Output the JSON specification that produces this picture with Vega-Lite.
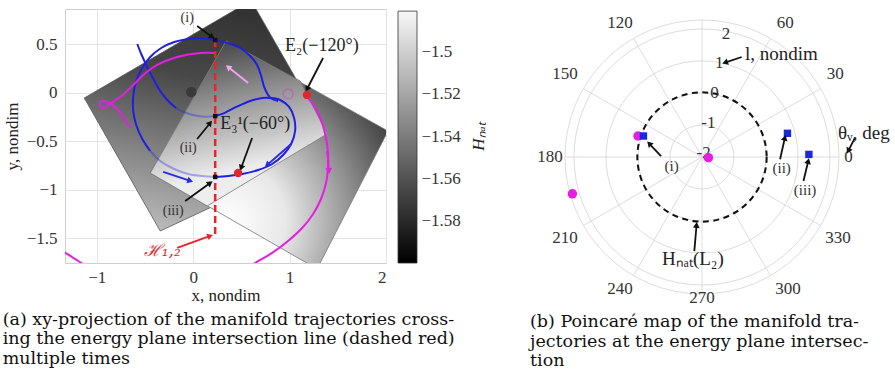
{
  "$schema": "https://vega.github.io/schema/vega-lite/v6.json",
  "background": "white",
  "padding": {"left": 2, "top": 8, "right": 0, "bottom": 0},
  "config": {
    "font": "Liberation Serif",
    "view": {"stroke": null},
    "axis": {
      "grid": true, "gridColor": "#e4e4e4", "domain": false, "ticks": false,
      "labelFont": "Liberation Serif", "labelFontSize": 17, "labelColor": "#333",
      "titleFont": "Liberation Serif", "titleFontSize": 17, "titleFontWeight": "normal", "titleColor": "#222"
    },
    "axisX": {"labelPadding": 6, "titlePadding": 2},
    "axisY": {"labelPadding": 8, "titlePadding": 5},
    "title": {"font": "DejaVu Serif", "fontSize": 17.5, "fontWeight": "normal", "color": "#111", "lineHeight": 19.5, "orient": "bottom", "anchor": "start", "frame": "bounds", "offset": 7}
  },
  "datasets": {
    "planes": [
      {"plane": "P1", "k": 0, "x": -1.130, "y": -0.052},
      {"plane": "P1", "k": 1, "x": 0.601, "y": 0.954},
      {"plane": "P1", "k": 2, "x": 1.482, "y": -0.577},
      {"plane": "P1", "k": 3, "x": -0.342, "y": -1.423},
      {"plane": "P1", "k": 4, "x": -1.130, "y": -0.052},
      {"plane": "Q", "k": 0, "x": -0.446, "y": -0.825},
      {"plane": "Q", "k": 1, "x": 0.342, "y": 0.536},
      {"plane": "Q", "k": 2, "x": 2.021, "y": -0.392},
      {"plane": "Q", "k": 3, "x": 1.285, "y": -1.814},
      {"plane": "Q", "k": 4, "x": -0.446, "y": -0.825},
      {"plane": "L", "k": 0, "x": -0.446, "y": -0.825},
      {"plane": "L", "k": 1, "x": 0.342, "y": 0.536},
      {"plane": "L", "k": 2, "x": 1.109, "y": 0.124},
      {"plane": "L", "k": 3, "x": 1.389, "y": -0.423},
      {"plane": "L", "k": 4, "x": 0.145, "y": -1.165},
      {"plane": "L", "k": 5, "x": -0.446, "y": -0.825}
    ],
    "blue": [
      {"seg": 1, "depth": "front", "k": 0, "x": -0.580, "y": 0.505},
      {"seg": 1, "depth": "front", "k": 1, "x": -0.539, "y": 0.402},
      {"seg": 1, "depth": "front", "k": 2, "x": -0.487, "y": 0.289},
      {"seg": 1, "depth": "front", "k": 3, "x": -0.425, "y": 0.165},
      {"seg": 1, "depth": "front", "k": 4, "x": -0.342, "y": 0.021},
      {"seg": 1, "depth": "front", "k": 5, "x": -0.259, "y": -0.082},
      {"seg": 1, "depth": "front", "k": 6, "x": -0.176, "y": -0.155},
      {"seg": 2, "depth": "behind", "k": 7, "x": -0.176, "y": -0.155},
      {"seg": 2, "depth": "behind", "k": 8, "x": -0.073, "y": -0.206},
      {"seg": 2, "depth": "behind", "k": 9, "x": 0.052, "y": -0.238},
      {"seg": 2, "depth": "behind", "k": 10, "x": 0.140, "y": -0.244},
      {"seg": 2, "depth": "behind", "k": 11, "x": 0.228, "y": -0.237},
      {"seg": 3, "depth": "front", "k": 12, "x": 0.228, "y": -0.237},
      {"seg": 3, "depth": "front", "k": 13, "x": 0.301, "y": -0.216},
      {"seg": 3, "depth": "front", "k": 14, "x": 0.446, "y": -0.144},
      {"seg": 3, "depth": "front", "k": 15, "x": 0.591, "y": -0.082},
      {"seg": 3, "depth": "front", "k": 16, "x": 0.715, "y": -0.052},
      {"seg": 3, "depth": "front", "k": 17, "x": 0.798, "y": -0.052},
      {"seg": 3, "depth": "front", "k": 18, "x": 0.902, "y": -0.072},
      {"seg": 3, "depth": "front", "k": 19, "x": 0.995, "y": -0.144},
      {"seg": 3, "depth": "front", "k": 20, "x": 1.047, "y": -0.258},
      {"seg": 3, "depth": "front", "k": 21, "x": 1.057, "y": -0.392},
      {"seg": 3, "depth": "front", "k": 22, "x": 1.016, "y": -0.526},
      {"seg": 3, "depth": "front", "k": 23, "x": 0.933, "y": -0.639},
      {"seg": 3, "depth": "front", "k": 24, "x": 0.819, "y": -0.732},
      {"seg": 3, "depth": "front", "k": 25, "x": 0.674, "y": -0.794},
      {"seg": 3, "depth": "front", "k": 26, "x": 0.508, "y": -0.835},
      {"seg": 3, "depth": "front", "k": 27, "x": 0.363, "y": -0.856},
      {"seg": 3, "depth": "front", "k": 28, "x": 0.228, "y": -0.866},
      {"seg": 4, "depth": "behind", "k": 29, "x": 0.228, "y": -0.866},
      {"seg": 4, "depth": "behind", "k": 30, "x": 0.093, "y": -0.856},
      {"seg": 4, "depth": "behind", "k": 31, "x": -0.052, "y": -0.835},
      {"seg": 4, "depth": "behind", "k": 32, "x": -0.197, "y": -0.784},
      {"seg": 4, "depth": "behind", "k": 33, "x": -0.342, "y": -0.701},
      {"seg": 4, "depth": "behind", "k": 34, "x": -0.446, "y": -0.598},
      {"seg": 5, "depth": "front", "k": 35, "x": -0.446, "y": -0.598},
      {"seg": 5, "depth": "front", "k": 36, "x": -0.528, "y": -0.474},
      {"seg": 5, "depth": "front", "k": 37, "x": -0.591, "y": -0.330},
      {"seg": 5, "depth": "front", "k": 38, "x": -0.622, "y": -0.186},
      {"seg": 5, "depth": "front", "k": 39, "x": -0.622, "y": -0.031},
      {"seg": 5, "depth": "front", "k": 40, "x": -0.591, "y": 0.124},
      {"seg": 5, "depth": "front", "k": 41, "x": -0.528, "y": 0.258},
      {"seg": 5, "depth": "front", "k": 42, "x": -0.446, "y": 0.371},
      {"seg": 5, "depth": "front", "k": 43, "x": -0.332, "y": 0.464},
      {"seg": 5, "depth": "front", "k": 44, "x": -0.197, "y": 0.526},
      {"seg": 5, "depth": "front", "k": 45, "x": -0.052, "y": 0.557},
      {"seg": 5, "depth": "front", "k": 46, "x": 0.093, "y": 0.567},
      {"seg": 5, "depth": "front", "k": 47, "x": 0.228, "y": 0.546},
      {"seg": 5, "depth": "front", "k": 48, "x": 0.363, "y": 0.515},
      {"seg": 5, "depth": "front", "k": 49, "x": 0.487, "y": 0.464},
      {"seg": 5, "depth": "front", "k": 50, "x": 0.591, "y": 0.381},
      {"seg": 5, "depth": "front", "k": 51, "x": 0.663, "y": 0.289},
      {"seg": 5, "depth": "front", "k": 52, "x": 0.705, "y": 0.175},
      {"seg": 5, "depth": "front", "k": 53, "x": 0.736, "y": 0.062},
      {"seg": 5, "depth": "front", "k": 54, "x": 0.777, "y": -0.021},
      {"seg": 5, "depth": "front", "k": 55, "x": 0.819, "y": -0.062},
      {"seg": 5, "depth": "front", "k": 56, "x": 0.881, "y": -0.082}
    ],
    "magenta": [
      {"seg": 1, "k": 0, "x": -0.653, "y": -0.361},
      {"seg": 1, "k": 1, "x": -0.715, "y": -0.268},
      {"seg": 1, "k": 2, "x": -0.788, "y": -0.165},
      {"seg": 1, "k": 3, "x": -0.860, "y": -0.113},
      {"seg": 1, "k": 4, "x": -0.922, "y": -0.082},
      {"seg": 1, "k": 5, "x": -0.964, "y": -0.093},
      {"seg": 1, "k": 6, "x": -0.964, "y": -0.134},
      {"seg": 1, "k": 7, "x": -0.922, "y": -0.155},
      {"seg": 1, "k": 8, "x": -0.881, "y": -0.124},
      {"seg": 1, "k": 9, "x": -0.819, "y": -0.082},
      {"seg": 1, "k": 10, "x": -0.756, "y": -0.041},
      {"seg": 1, "k": 11, "x": -0.632, "y": 0.072},
      {"seg": 1, "k": 12, "x": -0.518, "y": 0.186},
      {"seg": 1, "k": 13, "x": -0.373, "y": 0.289},
      {"seg": 1, "k": 14, "x": -0.166, "y": 0.371},
      {"seg": 1, "k": 15, "x": 0.073, "y": 0.412},
      {"seg": 1, "k": 16, "x": 0.228, "y": 0.412},
      {"seg": 2, "k": 0, "x": 1.192, "y": -0.052},
      {"seg": 2, "k": 1, "x": 1.275, "y": -0.165},
      {"seg": 2, "k": 2, "x": 1.337, "y": -0.309},
      {"seg": 2, "k": 3, "x": 1.378, "y": -0.464},
      {"seg": 2, "k": 4, "x": 1.399, "y": -0.619},
      {"seg": 2, "k": 5, "x": 1.399, "y": -0.773},
      {"seg": 2, "k": 6, "x": 1.378, "y": -0.928},
      {"seg": 2, "k": 7, "x": 1.326, "y": -1.093},
      {"seg": 2, "k": 8, "x": 1.244, "y": -1.247},
      {"seg": 2, "k": 9, "x": 1.130, "y": -1.392},
      {"seg": 2, "k": 10, "x": 0.984, "y": -1.526},
      {"seg": 2, "k": 11, "x": 0.819, "y": -1.649},
      {"seg": 2, "k": 12, "x": 0.642, "y": -1.753},
      {"seg": 2, "k": 13, "x": 0.539, "y": -1.814},
      {"seg": 3, "k": 0, "x": -1.358, "y": -1.629},
      {"seg": 3, "k": 1, "x": -1.275, "y": -1.680},
      {"seg": 3, "k": 2, "x": -1.192, "y": -1.732},
      {"seg": 3, "k": 3, "x": -1.119, "y": -1.784}
    ],
    "arrowsA": [
      {"kind": "black", "x": 0.041, "y": 0.691, "x2": 0.197, "y2": 0.577, "heading": 126},
      {"kind": "black", "x": 0.041, "y": -0.474, "x2": 0.176, "y2": -0.309, "heading": 39},
      {"kind": "black", "x": -0.083, "y": -1.113, "x2": 0.176, "y2": -0.928, "heading": 54},
      {"kind": "black", "x": 0.611, "y": -0.464, "x2": 0.497, "y2": -0.773, "heading": 200},
      {"kind": "black", "x": 1.347, "y": 0.361, "x2": 1.181, "y2": 0.041, "heading": 207},
      {"kind": "red", "x": -0.166, "y": -1.598, "x2": 0.176, "y2": -1.474, "heading": 70},
      {"kind": "blue", "x": -0.311, "y": -0.814, "x2": -0.031, "y2": -0.907, "heading": 108},
      {"kind": "blue", "x": 1.016, "y": -0.526, "x2": 0.767, "y2": -0.742, "heading": 229},
      {"kind": "magenta", "x": 1.389, "y": -0.598, "x2": 1.409, "y2": -0.804, "heading": 174},
      {"kind": "magentaFaint", "x": 0.570, "y": 0.103, "x2": 0.363, "y2": 0.268, "heading": 309}
    ],
    "pointsA": [
      {"kind": "crossing", "x": 0.228, "y": 0.546},
      {"kind": "crossing", "x": 0.228, "y": -0.237},
      {"kind": "crossing", "x": 0.228, "y": -0.866},
      {"kind": "equilibrium", "x": 0.466, "y": -0.825},
      {"kind": "equilibrium", "x": 1.180, "y": -0.020},
      {"kind": "primary", "x": -0.020, "y": 0.010},
      {"kind": "secondary", "x": 0.985, "y": -0.010}
    ],
    "textA": [
      {"kind": "tag", "x": -0.062, "y": 0.773, "label": "(i)"},
      {"kind": "tag", "x": -0.052, "y": -0.567, "label": "(ii)"},
      {"kind": "tag", "x": -0.207, "y": -1.216, "label": "(iii)"},
      {"kind": "eq", "x": 0.280, "y": -0.320, "label": "E₃¹(−60°)"},
      {"kind": "eq", "x": 0.953, "y": 0.485, "label": "E₂(−120°)"},
      {"kind": "line", "x": -0.321, "y": -1.629, "label": "ℋ₁,₂"}
    ],
    "ringsB": [
      {"u": 0, "v": 0, "l": -1, "rho": 1},
      {"u": 0, "v": 0, "l": 0, "rho": 2},
      {"u": 0, "v": 0, "l": 1, "rho": 3},
      {"u": 0, "v": 0, "l": 2, "rho": 4},
      {"u": 0, "v": 0, "l": 2.28, "rho": 4.28}
    ],
    "spokesB": [
      {"theta": 0, "u": 0, "v": 0, "u2": 4.28, "v2": 0},
      {"theta": 30, "u": 0, "v": 0, "u2": 3.707, "v2": 2.14},
      {"theta": 60, "u": 0, "v": 0, "u2": 2.14, "v2": 3.707},
      {"theta": 90, "u": 0, "v": 0, "u2": 0, "v2": 4.28},
      {"theta": 120, "u": 0, "v": 0, "u2": -2.14, "v2": 3.707},
      {"theta": 150, "u": 0, "v": 0, "u2": -3.707, "v2": 2.14},
      {"theta": 180, "u": 0, "v": 0, "u2": -4.28, "v2": 0},
      {"theta": 210, "u": 0, "v": 0, "u2": -3.707, "v2": -2.14},
      {"theta": 240, "u": 0, "v": 0, "u2": -2.14, "v2": -3.707},
      {"theta": 270, "u": 0, "v": 0, "u2": 0, "v2": -4.28},
      {"theta": 300, "u": 0, "v": 0, "u2": 2.14, "v2": -3.707},
      {"theta": 330, "u": 0, "v": 0, "u2": 3.707, "v2": -2.14}
    ],
    "pointsB": [
      {"traj": "magenta", "theta": 354, "l": -1.79, "u": 0.20, "v": -0.02},
      {"traj": "magenta", "theta": 162, "l": 0.11, "u": -2.00, "v": 0.656},
      {"traj": "magenta", "theta": 196, "l": 2.20, "u": -4.05, "v": -1.15},
      {"traj": "blue", "theta": 160, "l": -0.06, "u": -1.83, "v": 0.656},
      {"traj": "blue", "theta": 15.5, "l": 0.78, "u": 2.67, "v": 0.74},
      {"traj": "blue", "theta": 1.4, "l": 1.35, "u": 3.34, "v": 0.08}
    ],
    "arrowsB": [
      {"u": -1.28, "v": 0.03, "u2": -1.65, "v2": 0.42, "heading": 316},
      {"u": 2.44, "v": -0.07, "u2": 2.59, "v2": 0.60, "heading": 13},
      {"u": 3.17, "v": -0.75, "u2": 3.32, "v2": -0.125, "heading": 14},
      {"u": 1.24, "v": 3.125, "u2": 0.72, "v2": 2.95, "heading": 251},
      {"u": 4.78, "v": 0.60, "u2": 4.57, "v2": 0.19, "heading": 207},
      {"u": -0.24, "v": -2.94, "u2": -0.17, "v2": -2.125, "heading": 5}
    ],
    "angleLabelsB": [
      {"u": 4.58, "v": 0, "label": "0"},
      {"u": 4.16, "v": 2.59, "label": "30"},
      {"u": 2.60, "v": 4.20, "label": "60"},
      {"u": -2.56, "v": 4.20, "label": "120"},
      {"u": -4.28, "v": 2.59, "label": "150"},
      {"u": -4.75, "v": 0, "label": "180"},
      {"u": -4.28, "v": -2.53, "label": "210"},
      {"u": -2.56, "v": -4.13, "label": "240"},
      {"u": 0, "v": -4.41, "label": "270"},
      {"u": 2.69, "v": -4.13, "label": "300"},
      {"u": 4.25, "v": -2.53, "label": "330"}
    ],
    "ringLabelsB": [
      {"u": 0.05, "v": 0.13, "label": "-2"},
      {"u": 0.20, "v": 1.07, "label": "-1"},
      {"u": 0.39, "v": 2.01, "label": "0"},
      {"u": 0.54, "v": 2.95, "label": "1"},
      {"u": 0.75, "v": 3.83, "label": "2"}
    ],
    "tagsB": [
      {"u": -0.95, "v": -0.28, "label": "(i)"},
      {"u": 2.49, "v": -0.33, "label": "(ii)"},
      {"u": 3.22, "v": -1.04, "label": "(iii)"}
    ],
    "namesB": [
      {"u": 1.34, "v": 3.21, "label": "l, nondim"},
      {"u": 4.25, "v": 0.76, "label": "θᵥ, deg"},
      {"u": -1.25, "v": -3.19, "label": "Hₙₐₜ(L₂)"}
    ]
  },
  "spacing": 43,
  "hconcat": [
    {
      "title": {"text": ["(a) xy-projection of the manifold trajectories cross-", "ing the energy plane intersection line (dashed red)", "multiple times"]},
      "spacing": 10,
      "hconcat": [
        {
          "width": 321,
          "height": 254,
          "view": {"stroke": "#cfcfcf"},
          "encoding": {
            "x": {"field": "x", "type": "quantitative", "scale": {"domain": [-1.33, 2], "nice": false, "zero": false}, "axis": {"title": "x, nondim", "values": [-1, 0, 1, 2], "format": "~g"}},
            "y": {"field": "y", "type": "quantitative", "scale": {"domain": [-1.753, 0.866], "nice": false, "zero": false}, "axis": {"title": "y, nondim", "values": [-1.5, -1, -0.5, 0, 0.5], "format": "~g"}}
          },
          "layer": [
            {
              "data": {"name": "planes"},
              "transform": [{"filter": "datum.plane === 'P1'"}],
              "mark": {"type": "line", "clip": true, "strokeWidth": 0.8, "stroke": "#555",
                "fill": {"gradient": "linear", "x1": 0.6, "y1": 0, "x2": 0.38, "y2": 1, "stops": [{"offset": 0, "color": "#303030"}, {"offset": 0.35, "color": "#484848"}, {"offset": 1, "color": "#b8b8b8"}]}},
              "encoding": {"order": {"field": "k", "type": "quantitative"}}
            },
            {
              "data": {"name": "planes"},
              "transform": [{"filter": "datum.plane === 'Q'"}],
              "mark": {"type": "line", "clip": true, "strokeWidth": 0.8, "stroke": "#777",
                "fill": {"gradient": "radial", "x1": 0.33, "y1": 0.78, "r1": 0, "x2": 0.33, "y2": 0.78, "r2": 0.8, "stops": [{"offset": 0, "color": "#ffffff"}, {"offset": 0.3, "color": "#e8e8e8"}, {"offset": 1, "color": "#383838"}]}},
              "encoding": {"order": {"field": "k", "type": "quantitative"}}
            },
            {
              "data": {"name": "planes"},
              "transform": [{"filter": "datum.plane === 'L'"}],
              "mark": {"type": "line", "clip": true, "strokeWidth": 0.8, "stroke": "#777", "fillOpacity": 0.92,
                "fill": {"gradient": "linear", "x1": 0.43, "y1": 0, "x2": 0.62, "y2": 0.75, "stops": [{"offset": 0, "color": "#484848"}, {"offset": 1, "color": "#ededed"}]}},
              "encoding": {"order": {"field": "k", "type": "quantitative"}}
            },
            {
              "data": {"name": "blue"},
              "mark": {"type": "line", "clip": true, "color": "#1f1fe0", "strokeWidth": 2, "interpolate": "catmull-rom"},
              "encoding": {
                "detail": {"field": "seg", "type": "nominal"},
                "order": {"field": "k", "type": "quantitative"},
                "opacity": {"field": "depth", "type": "nominal", "scale": {"domain": ["behind", "front"], "range": [0.35, 1]}, "legend": null}
              }
            },
            {
              "data": {"name": "magenta"},
              "mark": {"type": "line", "clip": true, "color": "#e31fe3", "strokeWidth": 2, "interpolate": "catmull-rom"},
              "encoding": {
                "detail": {"field": "seg", "type": "nominal"},
                "order": {"field": "k", "type": "quantitative"}
              }
            },
            {
              "data": {"values": [{"x": 0.228, "y": 0.546, "y2": -1.48}]},
              "mark": {"type": "rule", "color": "#e3262b", "strokeWidth": 2.5, "strokeDash": [7, 4]},
              "encoding": {"y2": {"field": "y2"}}
            },
            {
              "data": {"name": "arrowsA"},
              "mark": {"type": "rule", "strokeWidth": 1.8},
              "encoding": {
                "x2": {"field": "x2"},
                "y2": {"field": "y2"},
                "color": {"field": "kind", "type": "nominal", "scale": {"domain": ["black", "red", "blue", "magenta", "magentaFaint"], "range": ["#111111", "#e3262b", "#2a2ae6", "#e31fe3", "#f0a6f0"]}, "legend": null}
              }
            },
            {
              "data": {"name": "arrowsA"},
              "mark": {"type": "point", "shape": "triangle-up", "filled": true, "size": 45, "opacity": 1},
              "encoding": {
                "x": {"field": "x2", "type": "quantitative", "scale": {"domain": [-1.33, 2], "nice": false, "zero": false}, "axis": {"title": "x, nondim", "values": [-1, 0, 1, 2], "format": "~g"}},
                "y": {"field": "y2", "type": "quantitative", "scale": {"domain": [-1.753, 0.866], "nice": false, "zero": false}, "axis": {"title": "y, nondim", "values": [-1.5, -1, -0.5, 0, 0.5], "format": "~g"}},
                "angle": {"field": "heading", "type": "quantitative", "scale": {"domain": [0, 360], "range": [0, 360]}},
                "color": {"field": "kind", "type": "nominal", "scale": {"domain": ["black", "red", "blue", "magenta", "magentaFaint"], "range": ["#111111", "#e3262b", "#2a2ae6", "#e31fe3", "#f0a6f0"]}, "legend": null}
              }
            },
            {
              "data": {"name": "pointsA"},
              "transform": [{"filter": "datum.kind === 'secondary'"}],
              "mark": {"type": "point", "shape": "circle", "filled": false, "size": 100, "color": "#e31fe3", "opacity": 0.35, "strokeWidth": 1.5}
            },
            {
              "data": {"name": "pointsA"},
              "transform": [{"filter": "datum.kind === 'primary'"}],
              "mark": {"type": "point", "shape": "circle", "filled": true, "size": 110, "color": "#3a3a3a", "opacity": 1}
            },
            {
              "data": {"name": "pointsA"},
              "transform": [{"filter": "datum.kind === 'equilibrium'"}],
              "mark": {"type": "point", "shape": "circle", "filled": true, "size": 70, "color": "#e3262b", "opacity": 1}
            },
            {
              "data": {"name": "pointsA"},
              "transform": [{"filter": "datum.kind === 'crossing'"}],
              "mark": {"type": "point", "shape": "square", "filled": true, "size": 20, "color": "#111", "opacity": 1}
            },
            {
              "data": {"name": "textA"},
              "transform": [{"filter": "datum.kind === 'tag'"}],
              "mark": {"type": "text", "font": "Liberation Serif", "fontSize": 14, "color": "#333"},
              "encoding": {"text": {"field": "label"}}
            },
            {
              "data": {"name": "textA"},
              "transform": [{"filter": "datum.kind === 'eq'"}],
              "mark": {"type": "text", "font": "Liberation Serif", "fontSize": 18, "color": "#222", "align": "left"},
              "encoding": {"text": {"field": "label"}}
            },
            {
              "data": {"name": "textA"},
              "transform": [{"filter": "datum.kind === 'line'"}],
              "mark": {"type": "text", "font": "DejaVu Serif", "fontSize": 17, "fontStyle": "italic", "color": "#e3262b"},
              "encoding": {"text": {"field": "label"}}
            }
          ]
        },
        {
          "width": 19,
          "height": 254,
          "data": {"values": [{"lo": -1.6, "hi": -1.481}]},
          "mark": {"type": "rect", "stroke": "#333", "strokeWidth": 0.8,
            "fill": {"gradient": "linear", "x1": 0, "y1": 0, "x2": 0, "y2": 1, "stops": [{"offset": 0, "color": "#f7f7f7"}, {"offset": 1, "color": "#000000"}]}},
          "encoding": {
            "y": {"field": "lo", "type": "quantitative", "scale": {"domain": [-1.6, -1.48], "nice": false, "zero": false},
              "axis": {"orient": "right", "grid": false, "values": [-1.58, -1.56, -1.54, -1.52, -1.5], "format": ".2~f", "labelPadding": 4, "title": "Hₙₐₜ", "titleAngle": 270, "titleFontStyle": "italic", "titlePadding": 27}},
            "y2": {"field": "hi"}
          }
        }
      ]
    },
    {
      "title": {"text": ["(b) Poincaré map of the manifold tra-", "jectories at the energy plane intersec-", "tion"]},
      "width": 365,
      "height": 295,
      "encoding": {
        "x": {"field": "u", "type": "quantitative", "scale": {"domain": [-5.375, 6.031], "nice": false, "zero": false}, "axis": null},
        "y": {"field": "v", "type": "quantitative", "scale": {"domain": [-4.594, 4.625], "nice": false, "zero": false}, "axis": null}
      },
      "layer": [
        {
          "data": {"name": "spokesB"},
          "mark": {"type": "rule", "color": "#dddddd", "strokeWidth": 1},
          "encoding": {"x2": {"field": "u2"}, "y2": {"field": "v2"}}
        },
        {
          "data": {"name": "ringsB"},
          "mark": {"type": "point", "shape": "circle", "filled": false, "color": "#dddddd", "strokeWidth": 1, "opacity": 1},
          "encoding": {"size": {"field": "rho", "type": "quantitative", "scale": {"type": "pow", "exponent": 2, "domain": [0, 4.28], "range": [0, 75076], "zero": true}, "legend": null}}
        },
        {
          "data": {"values": [{"u": 0, "v": 0, "l": 0.02, "rho": 2.02}]},
          "mark": {"type": "point", "shape": "circle", "filled": false, "color": "#111", "strokeWidth": 2, "strokeDash": [6, 4.5], "opacity": 1},
          "encoding": {"size": {"field": "rho", "type": "quantitative", "scale": {"type": "pow", "exponent": 2, "domain": [0, 4.28], "range": [0, 75076], "zero": true}, "legend": null}}
        },
        {
          "data": {"name": "angleLabelsB"},
          "mark": {"type": "text", "font": "Liberation Serif", "fontSize": 17, "color": "#333"},
          "encoding": {"text": {"field": "label"}}
        },
        {
          "data": {"name": "ringLabelsB"},
          "mark": {"type": "text", "font": "Liberation Serif", "fontSize": 17, "color": "#333"},
          "encoding": {"text": {"field": "label"}}
        },
        {
          "data": {"name": "pointsB"},
          "transform": [{"filter": "datum.traj === 'magenta'"}],
          "mark": {"type": "point", "shape": "circle", "filled": true, "size": 90, "color": "#e31fe3", "opacity": 1}
        },
        {
          "data": {"name": "pointsB"},
          "transform": [{"filter": "datum.traj === 'blue'"}],
          "mark": {"type": "point", "shape": "square", "filled": true, "size": 55, "color": "#1a2ad8", "opacity": 1}
        },
        {
          "data": {"name": "arrowsB"},
          "mark": {"type": "rule", "color": "#111", "strokeWidth": 1.8},
          "encoding": {"x2": {"field": "u2"}, "y2": {"field": "v2"}}
        },
        {
          "data": {"name": "arrowsB"},
          "mark": {"type": "point", "shape": "triangle-up", "filled": true, "size": 45, "color": "#111", "opacity": 1},
          "encoding": {
            "x": {"field": "u2", "type": "quantitative", "scale": {"domain": [-5.375, 6.031], "nice": false, "zero": false}, "axis": null},
            "y": {"field": "v2", "type": "quantitative", "scale": {"domain": [-4.594, 4.625], "nice": false, "zero": false}, "axis": null},
            "angle": {"field": "heading", "type": "quantitative", "scale": {"domain": [0, 360], "range": [0, 360]}}
          }
        },
        {
          "data": {"name": "tagsB"},
          "mark": {"type": "text", "font": "Liberation Serif", "fontSize": 15, "color": "#333"},
          "encoding": {"text": {"field": "label"}}
        },
        {
          "data": {"name": "namesB"},
          "mark": {"type": "text", "font": "Liberation Serif", "fontSize": 19, "color": "#222", "align": "left"},
          "encoding": {"text": {"field": "label"}}
        }
      ]
    }
  ]
}
